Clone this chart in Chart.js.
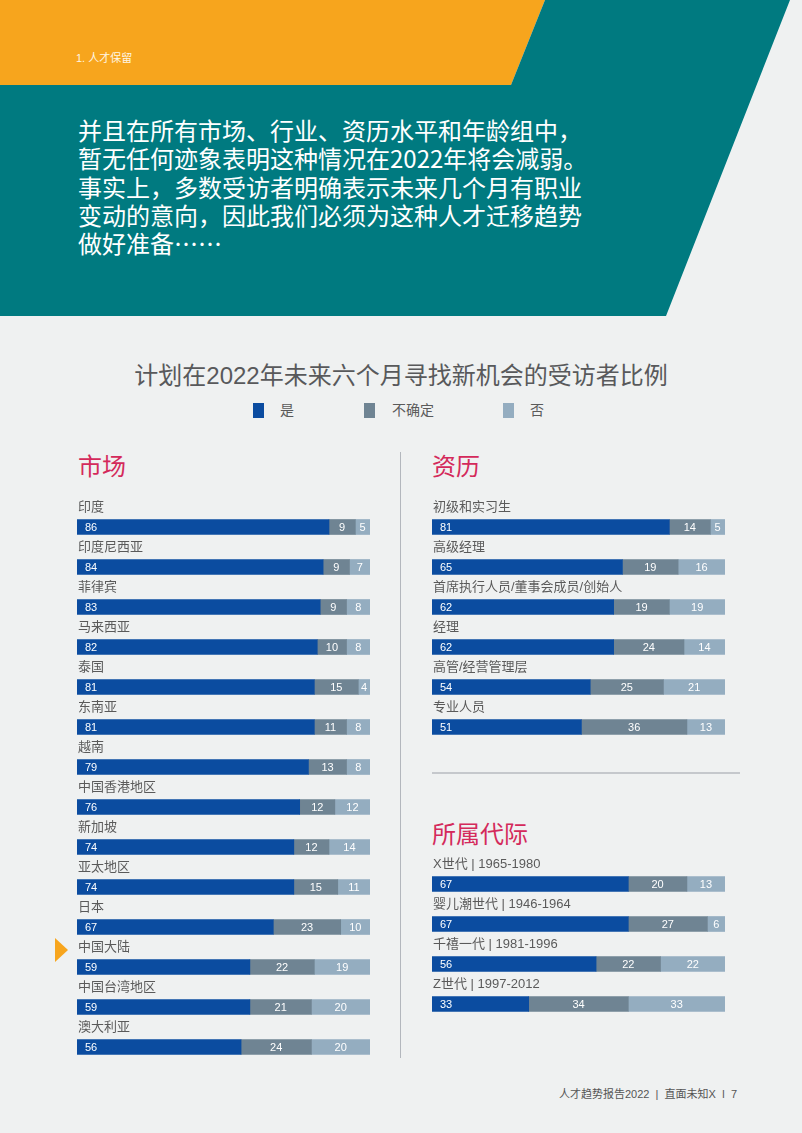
<!DOCTYPE html>
<html>
<head>
<meta charset="utf-8">
<script src="https://cdn.jsdelivr.net/npm/chart.js@4"></script>
<style>
  html, body { margin: 0; padding: 0; }
  body {
    width: 802px; height: 1133px; position: relative; overflow: hidden;
    background: #eff1f1;
    font-family: "Liberation Sans", "Noto Sans CJK SC", sans-serif;
  }
  .abs { position: absolute; }
  #bg { left: 0; top: 0; }
  #section { left: 76px; top: 50px; font-size: 11px; color: #fff6e4; line-height: 16px; }
  #intro { left: 78px; top: 116px; font-size: 24px; line-height: 28.3px; color: #fff; white-space: nowrap;
    font-family: "Noto Sans CJK SC", sans-serif; }
  #title { left: 0; width: 802px; top: 361px; text-align: center; font-size: 24px; color: #58595b; line-height: 30px; }
  .sw { width: 11px; height: 15px; top: 403px; }
  .lg { top: 401px; font-size: 14px; color: #5a5a5a; line-height: 18px; }
  .head { font-size: 24px; color: #d42a5b; line-height: 28px; }
  #vline { left: 400px; top: 452px; width: 1px; height: 606px; background: #b3b7bd; }
  #hline { left: 432px; top: 772px; width: 308px; height: 2px; background: #c5c8cc; }
  #footer { left: 559px; top: 1086px; font-size: 11px; color: #555; line-height: 16px; white-space: nowrap; }
</style>
</head>
<body>
<svg id="bg" class="abs" width="802" height="330">
  <polygon points="0,0 545,0 511,85 0,85" fill="#f7a51d"/>
  <polygon points="545,0 790,0 666,316 0,316 0,85 511,85" fill="#007a80"/>
</svg>
<svg class="abs" style="left:0;top:900px" width="80" height="80">
  <polygon points="55,38 68,50 55,62" fill="#f7a51d"/>
</svg>
<div id="section" class="abs">1. 人才保留</div>
<div id="intro" class="abs">并且在所有市场、行业、资历水平和年龄组中，<br>暂无任何迹象表明这种情况在2022年将会减弱。<br>事实上，多数受访者明确表示未来几个月有职业<br>变动的意向，因此我们必须为这种人才迁移趋势<br>做好准备……</div>
<div id="title" class="abs">计划在2022年未来六个月寻找新机会的受访者比例</div>
<div id="legend"></div>
<div class="abs head" style="left:78px;top:453px">市场</div>
<div class="abs head" style="left:432px;top:453px">资历</div>
<div class="abs head" style="left:432px;top:821px">所属代际</div>
<div id="vline" class="abs"></div>
<div id="hline" class="abs"></div>
<canvas id="market" class="abs" width="293" height="580" style="left:77px;top:487px"></canvas>
<canvas id="level" class="abs" width="293" height="260" style="left:432px;top:487px"></canvas>
<canvas id="gen" class="abs" width="293" height="180" style="left:432px;top:844px"></canvas>
<div id="footer" class="abs">人才趋势报告2022 &nbsp;|&nbsp; 直面未知X &nbsp;ǀ&nbsp; 7</div>

<script>
// series
const seriesNames = ['是', '不确定', '否'];
const seriesColors = ['#0b4ca0', '#6f8493', '#94adc0'];

// 市场
const markets = ['印度', '印度尼西亚', '菲律宾', '马来西亚', '泰国', '东南亚', '越南',
  '中国香港地区', '新加坡', '亚太地区', '日本', '中国大陆', '中国台湾地区', '澳大利亚'];
const marketYes = [86, 84, 83, 82, 81, 81, 79, 76, 74, 74, 67, 59, 59, 56];
const marketUnsure = [9, 9, 9, 10, 15, 11, 13, 12, 12, 15, 23, 22, 21, 24];
const marketNo = [5, 7, 8, 8, 4, 8, 8, 12, 14, 11, 10, 19, 20, 20];

// 资历
const levels = ['初级和实习生', '高级经理', '首席执行人员/董事会成员/创始人', '经理', '高管/经营管理层', '专业人员'];
const levelYes = [81, 65, 62, 62, 54, 51];
const levelUnsure = [14, 19, 19, 24, 25, 36];
const levelNo = [5, 16, 19, 14, 21, 13];

// 所属代际
const gens = ['X世代 | 1965-1980', '婴儿潮世代 | 1946-1964', '千禧一代 | 1981-1996', 'Z世代 | 1997-2012'];
const genYes = [67, 67, 56, 33];
const genUnsure = [20, 27, 22, 34];
const genNo = [13, 6, 22, 33];

const FONT = '"Liberation Sans", "Noto Sans CJK SC", sans-serif';

// legend
const legendX = [[253, 280], [364, 392], [503, 530]];
const legend = document.getElementById('legend');
seriesNames.forEach((name, i) => {
  const sw = document.createElement('div');
  sw.className = 'abs sw';
  sw.style.left = legendX[i][0] + 'px';
  sw.style.background = seriesColors[i];
  legend.appendChild(sw);
  const t = document.createElement('div');
  t.className = 'abs lg';
  t.style.left = legendX[i][1] + 'px';
  t.textContent = name;
  legend.appendChild(t);
});

// category names above bars + values inside bars
const barText = {
  id: 'barText',
  afterDatasetsDraw(chart) {
    const ctx = chart.ctx;
    const yScale = chart.scales.y;
    const area = chart.chartArea;
    ctx.save();
    ctx.textBaseline = 'middle';
    ctx.font = '13px ' + FONT;
    ctx.fillStyle = '#5a5a5a';
    ctx.textAlign = 'left';
    chart.data.labels.forEach((lab, i) => {
      ctx.fillText(lab, area.left + 1, yScale.getPixelForValue(i) - 20);
    });
    ctx.font = '11px ' + FONT;
    ctx.fillStyle = '#ffffff';
    chart.data.datasets.forEach((ds, d) => {
      const meta = chart.getDatasetMeta(d);
      meta.data.forEach((bar, i) => {
        const v = ds.data[i];
        if (d === 0) {
          ctx.textAlign = 'left';
          ctx.fillText(v, bar.base + 8, bar.y + 0.5);
        } else {
          ctx.textAlign = 'center';
          ctx.fillText(v, (bar.base + bar.x) / 2, bar.y + 0.5);
        }
      });
    });
    ctx.restore();
  }
};

function makeChart(id, labels, yes, unsure, no) {
  const ctx = document.getElementById(id);
  return new Chart(ctx, {
    type: 'bar',
    data: {
      labels: labels,
      datasets: [yes, unsure, no].map((vals, i) => ({
        label: seriesNames[i],
        data: vals,
        backgroundColor: seriesColors[i],
        borderWidth: 0,
        barThickness: 15
      }))
    },
    options: {
      indexAxis: 'y',
      responsive: false,
      animation: false,
      layout: { padding: { top: 20, left: 0, right: 0, bottom: 0 } },
      plugins: {
        legend: { display: false },
        tooltip: { enabled: false }
      },
      scales: {
        x: { stacked: true, min: 0, max: 100, display: false },
        y: { stacked: true, display: false }
      }
    },
    plugins: [barText]
  });
}

makeChart('market', markets, marketYes, marketUnsure, marketNo);
makeChart('level', levels, levelYes, levelUnsure, levelNo);
makeChart('gen', gens, genYes, genUnsure, genNo);
</script>
</body>
</html>
